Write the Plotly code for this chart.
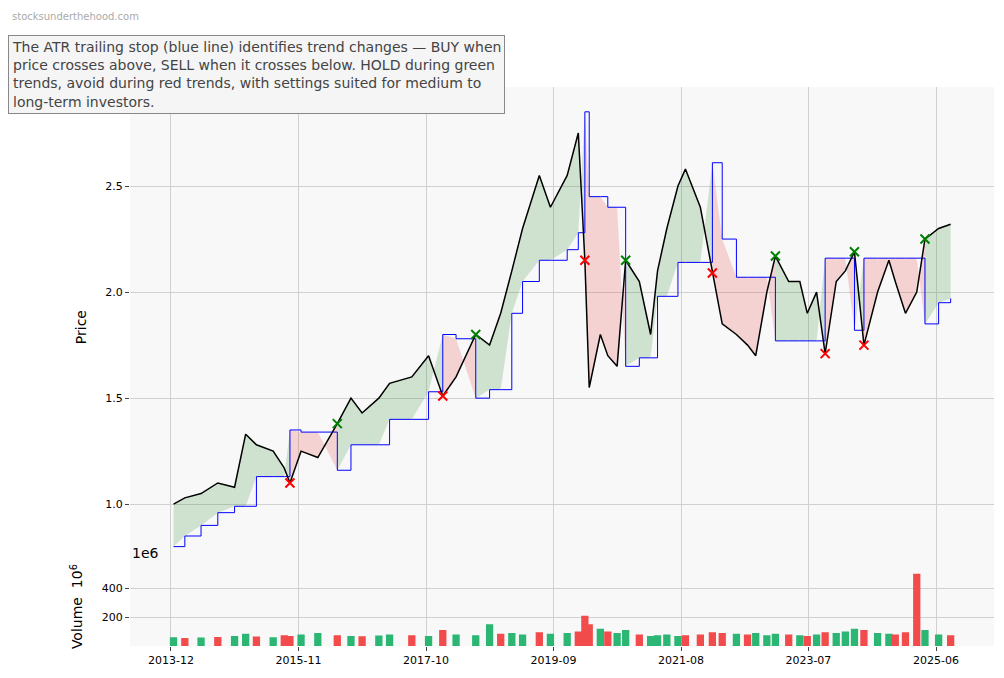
import plotly.graph_objects as go

dates = ["2013-12-15","2014-02-15","2014-05-15","2014-08-15","2014-11-15","2015-01-15","2015-03-15","2015-06-15","2015-08-15","2015-09-15",
"2015-11-15","2016-02-15","2016-06-01","2016-08-15","2016-10-15","2017-01-15","2017-03-15","2017-07-15","2017-10-15","2018-01-01",
"2018-03-15","2018-07-01","2018-09-15","2018-11-15","2019-01-15","2019-03-15","2019-06-15","2019-08-15","2019-11-15","2020-01-15",
"2020-02-20","2020-03-15","2020-05-15","2020-06-25","2020-08-15","2020-10-01","2020-12-15","2021-02-15","2021-03-25","2021-05-15",
"2021-07-15","2021-08-25","2021-11-15","2022-01-20","2022-03-15","2022-06-01","2022-08-01","2022-09-15","2022-11-15","2023-01-01",
"2023-03-15","2023-05-15","2023-06-25","2023-08-15","2023-10-01","2023-12-01","2024-01-20","2024-03-10","2024-05-01","2024-07-15",
"2024-09-15","2024-10-20","2024-12-15","2025-02-15","2025-04-01","2025-06-15","2025-08-20"]
close = [1.00,1.03,1.05,1.10,1.08,1.33,1.28,1.25,1.17,1.10,
1.25,1.22,1.38,1.50,1.43,1.50,1.57,1.60,1.70,1.51,
1.60,1.80,1.75,1.90,2.10,2.30,2.55,2.40,2.55,2.75,
2.15,1.55,1.80,1.70,1.65,2.15,2.05,1.80,2.10,2.30,
2.50,2.58,2.40,2.09,1.85,1.80,1.75,1.70,2.00,2.17,
2.05,2.05,1.90,2.00,1.71,2.05,2.10,2.19,1.75,2.00,
2.15,2.05,1.90,2.00,2.25,2.30,2.32]
stop = [0.80,0.85,0.90,0.96,0.99,0.99,1.13,1.13,1.13,1.35,
1.34,1.34,1.16,1.28,1.28,1.28,1.40,1.40,1.53,1.80,
1.78,1.50,1.54,1.54,1.90,2.05,2.15,2.15,2.20,2.28,
2.85,2.45,2.45,2.40,2.40,1.65,1.69,1.69,1.98,1.98,
2.14,2.14,2.14,2.61,2.25,2.07,2.07,2.07,2.07,1.77,
1.77,1.77,1.77,1.77,2.16,2.16,2.16,1.82,2.16,2.16,
2.16,2.16,2.16,2.16,1.85,1.95,1.97]
volume = [60,55,58,62,70,85,65,60,75,70,
80,90,75,70,68,72,80,75,70,110,
80,75,150,85,90,80,95,85,90,100,
210,150,120,100,90,110,80,70,75,80,
70,75,80,95,90,85,80,90,75,85,
80,75,70,80,95,90,100,120,110,90,
85,80,95,500,110,80,75]
vol_up = [1,0,1,0,1,1,0,1,0,0,
1,1,0,1,0,1,1,0,1,0,
1,1,1,0,1,1,0,1,1,0,
0,0,1,0,1,1,0,1,1,1,
1,0,0,0,0,1,0,1,1,1,
0,1,0,1,0,1,1,1,0,1,
1,0,0,0,1,1,0]

fig = go.Figure()
n = len(dates)
bull = [c >= s for c, s in zip(close, stop)]
i = 0
while i < n:
    j = i
    while j + 1 < n and bull[j + 1] == bull[i]:
        j += 1
    end = min(j + 1, n - 1)
    xs = dates[i:end + 1]
    col = "rgba(46,139,46,0.2)" if bull[i] else "rgba(230,60,60,0.2)"
    fig.add_trace(go.Scatter(x=xs, y=stop[i:end + 1], mode="lines", line=dict(width=0), showlegend=False, hoverinfo="skip"))
    fig.add_trace(go.Scatter(x=xs, y=close[i:end + 1], mode="lines", line=dict(width=0), fill="tonexty", fillcolor=col, showlegend=False, hoverinfo="skip"))
    i = j + 1

fig.add_trace(go.Scatter(x=dates, y=stop, mode="lines", line=dict(color="blue", width=1, shape="hv"), showlegend=False))
fig.add_trace(go.Scatter(x=dates, y=close, mode="lines", line=dict(color="black", width=1.5), showlegend=False))

bx, by, sx, sy = [], [], [], []
for k in range(1, n):
    if bull[k] and not bull[k - 1]:
        bx.append(dates[k]); by.append(close[k])
    elif not bull[k] and bull[k - 1]:
        sx.append(dates[k]); sy.append(close[k])
fig.add_trace(go.Scatter(x=bx, y=by, mode="markers", marker=dict(symbol="x-thin", size=9, line=dict(color="green", width=2)), showlegend=False))
fig.add_trace(go.Scatter(x=sx, y=sy, mode="markers", marker=dict(symbol="x-thin", size=9, line=dict(color="red", width=2)), showlegend=False))

vcol = ["#2bb673" if u else "#f24b4b" for u in vol_up]
fig.add_trace(go.Bar(x=dates, y=volume, width=[40 * 86400000] * n, marker=dict(color=vcol, line=dict(width=0)), yaxis="y2", showlegend=False))

ticks = ["2013-12-01","2015-11-01","2017-10-01","2019-09-01","2021-08-01","2023-07-01","2025-06-01"]
fig.update_layout(
    width=988, height=662, paper_bgcolor="white", plot_bgcolor="#f8f8f8",
    margin=dict(l=122, r=2, t=79, b=24, autoexpand=False),
    font=dict(family="DejaVu Sans", size=11, color="black"),
    xaxis=dict(range=["2013-04-20","2026-04-15"], tickvals=ticks, tickformat="%Y-%m", showgrid=True, gridcolor="#d0d0d0",
               anchor="y2", zeroline=False, ticks="outside", ticklen=4, automargin=False),
    yaxis=dict(domain=[0.141, 1], range=[0.703, 2.967], tickvals=[1.0, 1.5, 2.0, 2.5], ticktext=["1.0","1.5","2.0","2.5"],
               gridcolor="#d0d0d0", zeroline=False, title=dict(text="Price", font=dict(size=14)), ticks="outside", ticklen=4, automargin=False),
    yaxis2=dict(domain=[0, 0.141], range=[0, 545], tickvals=[200, 400], gridcolor="#d0d0d0", zeroline=False,
                title=dict(text="Volume  10<sup>6</sup>", font=dict(size=14)), ticks="outside", ticklen=4, automargin=False),
    annotations=[
        dict(text="stocksunderthehood.com", xref="paper", yref="paper", x=-0.139, y=1.14, xanchor="left", yanchor="top",
             showarrow=False, font=dict(size=10, color="#aaaaaa")),
        dict(text="The ATR trailing stop (blue line) identifies trend changes — BUY when<br>price crosses above, SELL when it crosses below. HOLD during green<br>trends, avoid during red trends, with settings suited for medium to<br>long-term investors.",
             xref="paper", yref="paper", x=-0.141, y=1.093, xanchor="left", yanchor="top", align="left", showarrow=False,
             font=dict(size=14, color="#444444"), bgcolor="#f5f5f5", bordercolor="#888888", borderwidth=1, borderpad=3),
        dict(text="1e6", xref="paper", yref="paper", x=0, y=0.148, xanchor="left", yanchor="bottom", showarrow=False, font=dict(size=14)),
    ],
)
fig.write_html("out.html")
